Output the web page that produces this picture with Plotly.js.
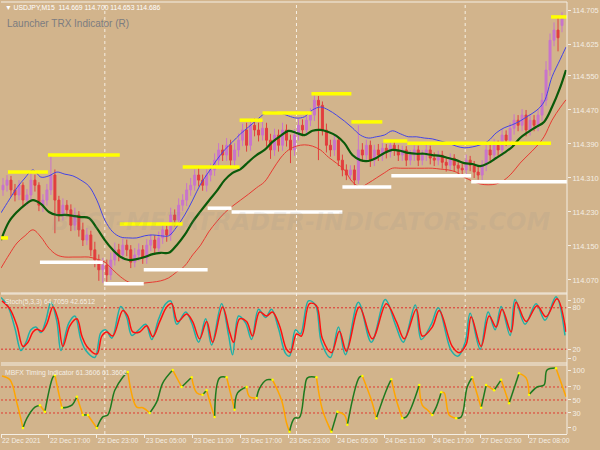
<!DOCTYPE html>
<html><head><meta charset="utf-8">
<script src="https://cdn.plot.ly/plotly-3.0.1.min.js"></script>
<style>html,body{margin:0;padding:0;background:#D2B48C;}#chart{width:600px;height:450px;}</style>
</head><body><div id="chart"></div>
<script>
// ---------- main window: USDJPY M15 candles ----------
const candleOpen = [114.282,114.293,114.305,114.282,114.270,114.293,114.258,114.270,114.305,114.293,
114.246,114.258,114.282,114.317,114.258,114.223,114.246,114.235,114.199,114.223,
114.188,114.164,114.176,114.141,114.117,114.094,114.105,114.082,114.117,114.141,
114.129,114.152,114.141,114.112,114.129,114.141,114.122,114.152,114.164,114.145,
114.169,114.188,114.176,114.223,114.211,114.246,114.258,114.282,114.293,114.317,
114.305,114.293,114.317,114.329,114.352,114.376,114.364,114.387,114.352,114.376,
114.399,114.423,114.387,114.434,114.423,114.411,114.427,114.399,114.376,114.411,
114.387,114.423,114.399,114.376,114.411,114.434,114.423,114.446,114.458,114.493,
114.481,114.423,114.387,114.376,114.399,114.352,114.329,114.317,114.329,114.305,
114.376,114.364,114.387,114.352,114.376,114.364,114.380,114.371,114.387,114.376,
114.364,114.376,114.352,114.364,114.376,114.352,114.364,114.376,114.357,114.352,
114.364,114.347,114.340,114.357,114.340,114.333,114.329,114.352,114.340,114.324,
114.317,114.340,114.376,114.364,114.387,114.376,114.411,114.399,114.427,114.446,
114.434,114.458,114.423,114.446,114.434,114.458,114.493,114.564,114.634,114.658,
114.669];
const candleHigh = [114.310,114.317,114.315,114.296,114.305,114.300,114.284,114.322,114.318,114.300,
114.272,114.296,114.364,114.330,114.268,114.262,114.258,114.248,114.240,114.232,
114.205,114.192,114.186,114.160,114.130,114.122,114.118,114.135,114.158,114.155,
114.168,114.165,114.152,114.145,114.156,114.152,114.166,114.178,114.175,114.184,
114.200,114.198,114.240,114.236,114.262,114.272,114.298,114.310,114.330,114.334,
114.318,114.330,114.344,114.368,114.392,114.388,114.404,114.400,114.392,114.415,
114.438,114.440,114.448,114.450,114.440,114.442,114.440,114.414,114.426,114.424,
114.440,114.436,114.412,114.425,114.450,114.448,114.460,114.474,114.505,114.503,
114.490,114.438,114.400,114.412,114.408,114.365,114.342,114.340,114.340,114.434,
114.392,114.400,114.398,114.388,114.390,114.392,114.390,114.398,114.397,114.388,
114.386,114.385,114.376,114.387,114.386,114.376,114.388,114.386,114.370,114.374,
114.374,114.358,114.368,114.366,114.352,114.345,114.365,114.362,114.350,114.336,
114.352,114.390,114.392,114.402,114.398,114.425,114.422,114.440,114.460,114.458,
114.472,114.470,114.460,114.458,114.472,114.510,114.585,114.650,114.676,114.688,
114.700];
const candleLow = [114.268,114.278,114.266,114.255,114.258,114.244,114.245,114.258,114.278,114.232,
114.230,114.245,114.270,114.180,114.208,114.210,114.220,114.185,114.186,114.172,
114.150,114.152,114.126,114.100,114.068,114.063,114.066,114.070,114.104,114.114,
114.116,114.126,114.098,114.100,114.115,114.108,114.108,114.138,114.130,114.132,
114.155,114.160,114.162,114.196,114.198,114.232,114.244,114.268,114.280,114.290,
114.280,114.278,114.302,114.315,114.338,114.350,114.350,114.338,114.336,114.360,
114.385,114.372,114.374,114.408,114.396,114.398,114.384,114.355,114.362,114.372,
114.374,114.384,114.345,114.362,114.398,114.408,114.410,114.432,114.444,114.352,
114.410,114.370,114.360,114.362,114.338,114.314,114.305,114.304,114.292,114.296,
114.348,114.350,114.336,114.338,114.350,114.350,114.356,114.358,114.362,114.350,
114.350,114.338,114.340,114.350,114.338,114.340,114.350,114.342,114.338,114.340,
114.332,114.325,114.326,114.326,114.320,114.316,114.315,114.326,114.310,114.306,
114.305,114.326,114.350,114.350,114.362,114.362,114.385,114.386,114.412,114.420,
114.420,114.408,114.410,114.420,114.420,114.444,114.480,114.550,114.620,114.608,
114.653];
const candleClose = [114.293,114.305,114.282,114.270,114.293,114.258,114.270,114.305,114.293,114.246,
114.258,114.282,114.317,114.258,114.223,114.246,114.235,114.199,114.223,114.188,
114.164,114.176,114.141,114.117,114.094,114.105,114.082,114.117,114.141,114.129,
114.152,114.141,114.112,114.129,114.141,114.122,114.152,114.164,114.145,114.169,
114.188,114.176,114.223,114.211,114.246,114.258,114.282,114.293,114.317,114.305,
114.293,114.317,114.329,114.352,114.376,114.364,114.387,114.352,114.376,114.399,
114.423,114.387,114.434,114.423,114.411,114.427,114.399,114.376,114.411,114.387,
114.423,114.399,114.376,114.411,114.434,114.423,114.446,114.458,114.493,114.481,
114.423,114.387,114.376,114.399,114.352,114.329,114.317,114.329,114.305,114.376,
114.364,114.387,114.352,114.376,114.364,114.380,114.371,114.387,114.376,114.364,
114.376,114.352,114.364,114.376,114.352,114.364,114.376,114.357,114.352,114.364,
114.347,114.340,114.357,114.340,114.333,114.329,114.352,114.340,114.324,114.317,
114.340,114.376,114.364,114.387,114.376,114.411,114.399,114.427,114.446,114.434,
114.458,114.423,114.446,114.434,114.458,114.493,114.564,114.634,114.658,114.640,
114.686];

// Launcher TRX bands (bar index, price)
const upperBand = [114.228,114.258,114.287,114.310,114.329,114.312,114.315,114.324,114.319,114.315,
114.305,114.291,114.258,114.211,114.183,114.171,114.169,114.169,114.174,114.176,
114.174,114.174,114.195,114.223,114.258,114.296,114.324,114.352,114.376,114.395,
114.414,114.430,114.446,114.461,114.465,114.463,114.456,114.451,114.454,114.470,
114.477,114.470,114.458,114.444,114.428,114.411,114.404,114.407,114.411,114.421,
114.414,114.407,114.407,114.404,114.402,114.397,114.392,114.385,114.381,114.383,
114.388,114.397,114.416,114.428,114.435,114.444,114.456,114.468,114.489,114.548,
114.588,114.618];
const middleBand = [114.164,114.207,114.230,114.247,114.258,114.249,114.230,114.223,114.223,114.221,
114.218,114.216,114.192,114.164,114.141,114.124,114.117,114.119,114.124,114.131,
114.134,114.134,114.152,114.176,114.207,114.232,114.256,114.279,114.305,114.322,
114.331,114.348,114.364,114.376,114.395,114.409,114.421,114.416,114.411,114.421,
114.423,114.418,114.409,114.392,114.364,114.352,114.350,114.357,114.369,114.376,
114.374,114.369,114.367,114.367,114.364,114.362,114.357,114.352,114.345,114.343,
114.338,114.345,114.357,114.369,114.383,114.404,114.418,114.430,114.442,114.477,
114.522,114.564];
const lowerBand = [114.098,114.129,114.157,114.174,114.188,114.171,114.145,114.129,114.124,114.124,
114.124,114.124,114.119,114.112,114.094,114.077,114.065,114.061,114.063,114.065,
114.068,114.075,114.089,114.103,114.129,114.152,114.183,114.207,114.228,114.244,
114.258,114.272,114.287,114.301,114.329,114.357,114.376,114.385,114.388,114.385,
114.376,114.359,114.345,114.329,114.301,114.289,114.298,114.310,114.322,114.333,
114.333,114.333,114.333,114.333,114.333,114.331,114.329,114.324,114.312,114.303,
114.296,114.294,114.296,114.305,114.322,114.345,114.364,114.383,114.407,114.446,
114.475,114.494];

// Resistance (yellow) and support (white) levels: start bar, end bar, price
const resistStart = [0, 3.5, 23.5, 59.5, 91, 119.5, 131, 155.5, 175.5, 191.5, 203.5, 275.5];
const resistEnd   = [3.5, 23.5, 59.5, 91, 119.5, 131, 155.5, 175.5, 191, 203.5, 275.5, 283.5];
const resistLevel = [114.169, 114.324, 114.364, 114.202, 114.336, 114.446, 114.463, 114.508, 114.442, 114.397, 114.392, 114.689];
const supportStart = [19.5, 51.5, 71.5, 103.5, 115.5, 171, 195.5, 235.5];
const supportEnd   = [51, 71.5, 103.5, 115.5, 171, 195.5, 235.5, 283.5];
const supportLevel = [114.112, 114.061, 114.094, 114.239, 114.230, 114.289, 114.315, 114.301];

// ---------- Stochastic (5,3,3) ----------
const stochMainIdx = [0,3.5,7,10,12.5,15,17.5,20,22.5,25, 28,30,34,37,40,42.5,47,50,52.5,55.5,
 60,63,65.5,69,72.5,75.5,79,82.5,85,88, 92.5,95.5,99,102.5,105.5,110.5,114,116,119,122.5,
 125.5,129,132.5,135.5,139,142.5,144.5,147.5,150,154, 157.5,160.5,165,169,172.5,179,185.5,192.5,197.5,201.5,
 207.5,210.5,215.5,219,225.5,229,232.5,235,240,244, 247.5,250.5,255,257.5,262.5,268,272.5,278,282.5];
const stochMain = [95,82,50,18,30,48,52,44,62,88, 60,18,58,68,34,18,8,44,48,36,
 82,66,40,48,56,34,64,86,90,56, 74,58,30,64,26,86,40,12,68,58,
 34,78,66,78,50,14,10,48,42,90, 84,30,8,52,12,88,30,92,56,30,
 84,34,56,80,18,10,30,72,20,74, 48,82,40,92,56,86,62,96,40];
const stochSignalIdx = [0.5,4.5,8,11,13.5,16,18,20.5,23,26, 28.5,31,34.5,38,40.5,43,48,50.5,53,56,
 61,63.5,66,69.5,73,76,79.5,83,85.5,88.5, 93,96,99.5,103,106,111,114.5,116.5,119.5,123,
 126,129.5,133,136,139.5,143,145,148,150.5,154.5, 158,161,165.5,169.5,173,179.5,186,193,198,202,
 208,211,216,219.5,226,229.5,233,235.5,240.5,244.5, 248,251,255.5,258,263,268.5,273,278.5,283];
const stochSignal = [90,78,54,24,30,45,49,46,57,81, 64,24,54,64,39,24,13,39,45,39,
 76,68,45,45,54,38,60,81,86,60, 71,60,35,60,30,81,45,30,64,60,
 39,74,68,74,54,20,15,42,39,86, 83,35,15,46,17,81,35,86,60,35,
 78,39,52,76,24,15,27,67,24,68, 52,78,45,88,60,83,67,93,45];
const stochLevels = [80, 20];

// ---------- MBFX Timing ----------
const mbfxIdx = [0.5,4.5,8,11,13,17,19.5,22,26,27, 30.5,33,35.5,38,41,43.5,48,51,53.5,57,
 61,63.5,68,71,74.5,78,81,86,90.5,95.5, 98,101,103,105.5,107,109.5,113,117,118.5,123,
 124.5,128,129.5,133,136,140.5,143,144.5,147,149.5, 152,153.5,158,161,165.5,168.5,172,173.5,179.5,181,
 185.5,188,193,195.5,198,201,203,209.5,211,213.5, 216,218,220.5,222,224.5,228,230.5,233.5,236,240.5,
 243,247,250.5,254.5,259.5,263,264.5,268.5,272,273.5, 278,283];
const mbfxVal = [87,81,45,7,22,39,42,32,85,88, 38,39,42,55,27,27,7,24,27,65,
 85,93,39,38,30,47,76,96,70,85, 61,58,65,38,24,84,85,35,61,70,
 55,53,68,81,81,50,15,1,22,23, 65,84,85,35,1,32,27,12,85,87,
 50,22,65,82,50,22,24,73,42,35, 27,39,62,61,27,22,24,70,85,38,
 73,65,81,45,91,84,58,70,73,96, 99,55];
const mbfxLevels = [70, 50, 30];

// ---------- axes text ----------
const priceTicks = [114.070,114.150,114.230,114.310,114.390,114.470,114.550,114.625,114.705];
const priceTickText = ['114.070','114.150','114.230','114.310','114.390','114.470','114.550','114.625','114.705'];
const stochTickPos = [91, 80, 20, 6];
const stochTickText = ['100', '80', '20', '0'];
const mbfxTickPos = [95, 70, 50, 30, 7];
const mbfxTickText = ['100', '70', '50', '30', '0'];
const xTickIdx = [0,24,48,72,96,120,144,168,192,216,240,264];
const xTickText = ['22 Dec 2021','22 Dec 17:00','22 Dec 23:00','23 Dec 05:00','23 Dec 11:00','23 Dec 17:00',
 '23 Dec 23:00','24 Dec 05:00','24 Dec 11:00','24 Dec 17:00','27 Dec 02:00','27 Dec 08:00'];
const separatorIdx = [52, 148, 232.5];
const headerText = '\u25BC USDJPY,M15\u00A0\u00A0114.669 114.700 114.653 114.686';
const titleText = 'Launcher TRX Indicator (R)';
const stochText = 'Stoch(5,3,3) 64.7059 42.6512';
const mbfxText = 'MBFX Timing Indicator 61.3606 61.3606';
const watermark = 'BEST-METATRADER-INDICATORS.COM';

// ---------- build ----------
const FONT = "'Liberation Sans',Arial,sans-serif";
const LIGHT = '#F4EEE4';
const BG = '#D2B48C';

const candleIdx = candleOpen.map((_, k) => 1 + 2 * k);
const bandIdx = upperBand.map((_, j) => Math.min(4 * j, 283));

function segs(starts, ends, levels) {
  const x = [], y = [];
  starts.forEach((s, i) => { x.push(s, ends[i], null); y.push(levels[i], levels[i], null); });
  return {x, y};
}
const rs = segs(resistStart, resistEnd, resistLevel);
const ss = segs(supportStart, supportEnd, supportLevel);

// MBFX split into rising (green) / falling (orange) runs
const up = {x: [], y: []}, dn = {x: [], y: []}, turns = {x: [], y: []};
let i = 0;
while (i < mbfxIdx.length - 1) {
  const rising = mbfxVal[i + 1] >= mbfxVal[i];
  const t = rising ? up : dn;
  t.x.push(mbfxIdx[i]); t.y.push(mbfxVal[i]);
  let j = i;
  while (j < mbfxIdx.length - 1 && ((mbfxVal[j + 1] >= mbfxVal[j]) === rising)) {
    j++; t.x.push(mbfxIdx[j]); t.y.push(mbfxVal[j]);
  }
  t.x.push(null); t.y.push(null);
  if (j < mbfxIdx.length - 1) { turns.x.push(mbfxIdx[j]); turns.y.push(mbfxVal[j]); }
  i = j;
}

const traces = [
  {type: 'candlestick', x: candleIdx, open: candleOpen, high: candleHigh, low: candleLow, close: candleClose,
   xaxis: 'x', yaxis: 'y', whiskerwidth: 0,
   increasing: {line: {color: '#C874CC', width: 1}, fillcolor: '#C874CC'},
   decreasing: {line: {color: '#E23E3E', width: 1}, fillcolor: '#E23E3E'}, hoverinfo: 'skip'},
  {type: 'scatter', mode: 'lines', x: bandIdx, y: upperBand, yaxis: 'y', line: {color: '#4444E6', width: 1, shape: 'spline'}},
  {type: 'scatter', mode: 'lines', x: bandIdx, y: lowerBand, yaxis: 'y', line: {color: '#E83A32', width: 1, shape: 'spline'}},
  {type: 'scatter', mode: 'lines', x: bandIdx, y: middleBand, yaxis: 'y', line: {color: '#0A5A0A', width: 2.2, shape: 'spline'}},
  {type: 'scatter', mode: 'lines', x: rs.x, y: rs.y, yaxis: 'y', line: {color: '#FFFF00', width: 3.5}},
  {type: 'scatter', mode: 'lines', x: ss.x, y: ss.y, yaxis: 'y', line: {color: '#FFFFFF', width: 3.5}},
  {type: 'scatter', mode: 'lines', x: stochMainIdx, y: stochMain, yaxis: 'y2', line: {color: '#20B0A8', width: 1.5, shape: 'spline'}},
  {type: 'scatter', mode: 'lines', x: stochSignalIdx, y: stochSignal, yaxis: 'y2', line: {color: '#FF1010', width: 1.5, shape: 'spline'}},
  {type: 'scatter', mode: 'lines', x: dn.x, y: dn.y, yaxis: 'y3', line: {color: '#FFA500', width: 1.5, shape: 'spline'}, connectgaps: false},
  {type: 'scatter', mode: 'lines', x: up.x, y: up.y, yaxis: 'y3', line: {color: '#1E7A1E', width: 1.5, shape: 'spline'}, connectgaps: false},
  {type: 'scatter', mode: 'markers', x: turns.x, y: turns.y, yaxis: 'y3', marker: {color: '#FFFF00', size: 2.5}}
];

const shapes = [];
separatorIdx.forEach(s => shapes.push({type: 'line', xref: 'x', yref: 'paper', x0: s, x1: s, y0: 0, y1: 1,
  line: {color: 'rgba(250,245,235,0.9)', width: 1, dash: '3px,3px'}, layer: 'below'}));
stochLevels.forEach(v => shapes.push({type: 'line', xref: 'paper', yref: 'y2', x0: 0, x1: 1, y0: v, y1: v,
  line: {color: '#E03030', width: 1, dash: '2px,2px'}, layer: 'below'}));
mbfxLevels.forEach(v => shapes.push({type: 'line', xref: 'paper', yref: 'y3', x0: 0, x1: 1, y0: v, y1: v,
  line: {color: '#E03A30', width: 1, dash: '2px,2px'}, layer: 'below'}));
// window frame lines
[1, 0.3264, 0.3241, 0.1644, 0.1597].forEach(p => shapes.push({type: 'line', xref: 'paper', yref: 'paper',
  x0: 0, x1: 1, y0: p, y1: p, line: {color: LIGHT, width: 1.2}}));
shapes.push({type: 'line', xref: 'paper', yref: 'paper', x0: 1, x1: 1, y0: 0, y1: 1, line: {color: LIGHT, width: 1}});

const annotations = [
  {xref: 'paper', yref: 'paper', x: 0.004, y: 0.988, xanchor: 'left', yanchor: 'middle', text: headerText, showarrow: false,
   font: {family: FONT, size: 6.8, color: '#FFFFFF'}},
  {xref: 'paper', yref: 'paper', x: 0.007, y: 0.951, xanchor: 'left', yanchor: 'middle', text: titleText, showarrow: false,
   font: {family: FONT, size: 10, color: '#7C7C80'}},
  {xref: 'paper', yref: 'paper', x: 0.004, y: 0.3056, xanchor: 'left', yanchor: 'middle', text: stochText, showarrow: false,
   font: {family: FONT, size: 6.8, color: '#F4EEE4'}},
  {xref: 'paper', yref: 'paper', x: 0.004, y: 0.1412, xanchor: 'left', yanchor: 'middle', text: mbfxText, showarrow: false,
   font: {family: FONT, size: 6.8, color: '#F4EEE4'}},
  {xref: 'paper', yref: 'paper', x: 0.53, y: 0.49, xanchor: 'center', yanchor: 'middle', text: watermark, showarrow: false,
   font: {family: "'DejaVu Sans'", size: 24, color: 'rgba(140,140,140,0.13)', weight: 'bold', style: 'italic'}}
];

const yBase = {side: 'right', showgrid: false, zeroline: false, ticks: 'outside', ticklen: 3, tickcolor: LIGHT,
  tickfont: {family: FONT, size: 7.4, color: LIGHT}, showline: false, fixedrange: true};

const layout = {
  width: 600, height: 450, paper_bgcolor: BG, plot_bgcolor: BG,
  margin: {l: 1, r: 33, t: 2, b: 16}, showlegend: false, hovermode: false,
  font: {family: FONT, size: 7, color: LIGHT},
  xaxis: {range: [0, 283.5], anchor: 'y3', tickmode: 'array', tickvals: xTickIdx, ticktext: xTickText,
    ticks: 'outside', ticklen: 3, tickcolor: LIGHT, ticklabelposition: 'outside right', tickangle: 0,
    tickfont: {family: FONT, size: 6.8, color: LIGHT}, showgrid: false, zeroline: false,
    showline: true, linecolor: LIGHT, linewidth: 1, rangeslider: {visible: false}, fixedrange: true},
  yaxis: Object.assign({}, yBase, {domain: [0.3264, 1], range: [114.0394, 114.7241], tickmode: 'array',
    tickvals: priceTicks, ticktext: priceTickText}),
  yaxis2: Object.assign({}, yBase, {domain: [0.1644, 0.3241], range: [0, 100], tickmode: 'array',
    tickvals: stochTickPos, ticktext: stochTickText}),
  yaxis3: Object.assign({}, yBase, {domain: [0, 0.1597], range: [-2.3, 103.8], tickmode: 'array',
    tickvals: mbfxTickPos, ticktext: mbfxTickText}),
  shapes: shapes, annotations: annotations
};

Plotly.newPlot('chart', traces, layout, {staticPlot: true, displayModeBar: false});
</script></body></html>
